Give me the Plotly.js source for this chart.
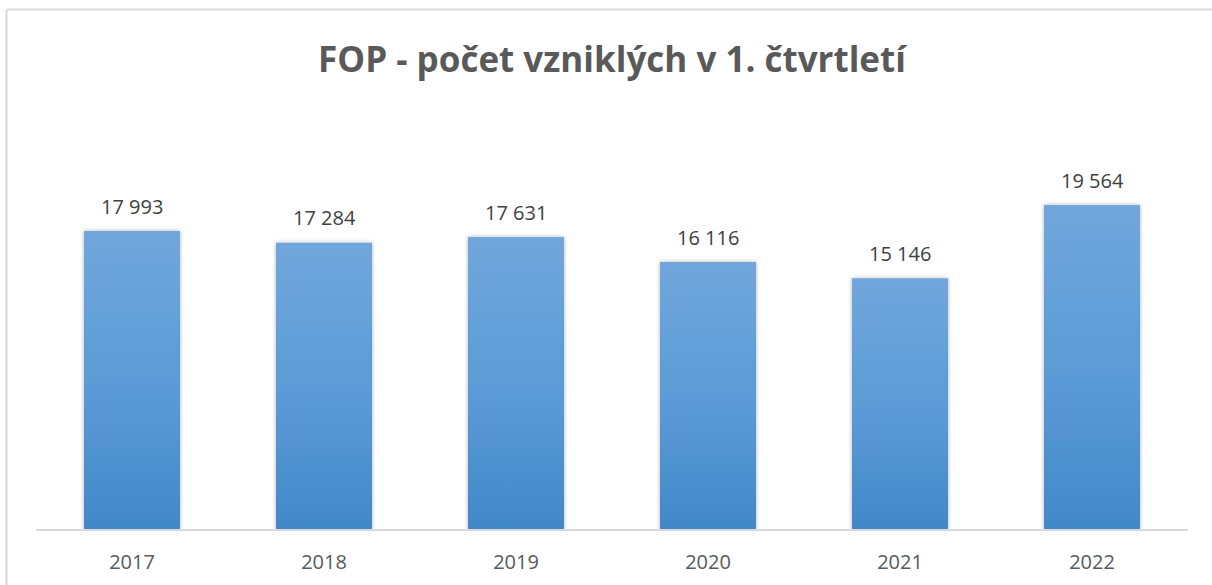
<!DOCTYPE html>
<html>
<head>
<meta charset="utf-8">
<script src="https://cdn.plot.ly/plotly-3.0.1.min.js"></script>
<style>
  html, body { margin: 0; padding: 0; background: #ffffff; }
  #chart { width: 1212px; height: 585px; }
</style>
</head>
<body>
<div id="chart"></div>
<script>
const years = ['2017', '2018', '2019', '2020', '2021', '2022'];
const counts = [17993, 17284, 17631, 16116, 15146, 19564];
const chartTitle = 'FOP - počet vzniklých v 1. čtvrtletí';

function fmt(v) {
  return String(v).replace(/\B(?=(\d{3})+(?!\d))/g, ' ');
}

const barTrace = {
  type: 'bar',
  x: years,
  y: counts,
  marker: { color: '#5b9bd5', line: { width: 0 } },
  hoverinfo: 'skip'
};

// on a category axis annotations are placed by category index
const annotations = years.map((yr, i) => ({
  x: i,
  y: counts[i],
  xref: 'x',
  yref: 'y',
  text: fmt(counts[i]),
  showarrow: false,
  yanchor: 'middle',
  yshift: 25,
  font: { family: 'Open Sans, sans-serif', size: 20, color: '#404040' }
}));

const layout = {
  width: 1212,
  height: 585,
  margin: { l: 36, r: 24, t: 115, b: 56, pad: 0 },
  paper_bgcolor: '#ffffff',
  plot_bgcolor: '#ffffff',
  showlegend: false,
  bargap: 0.5,
  title: {
    text: '<b>' + chartTitle + '</b>',
    font: { family: 'Open Sans, sans-serif', size: 35, color: '#595959' },
    x: 0.5,
    xref: 'paper',
    xanchor: 'center',
    y: (585 - 60) / 585,
    yref: 'container',
    yanchor: 'middle'
  },
  xaxis: {
    type: 'category',
    categoryorder: 'array',
    categoryarray: years,
    range: [-0.5, years.length - 0.5],
    autorange: false,
    showline: true,
    linecolor: '#d9d9d9',
    linewidth: 1.5,
    showgrid: false,
    zeroline: false,
    ticks: '',
    ticklabelstandoff: 14,
    tickfont: { family: 'Open Sans, sans-serif', size: 20, color: '#595959' },
    fixedrange: true
  },
  yaxis: {
    range: [0, 25000],
    autorange: false,
    showline: false,
    showgrid: false,
    zeroline: false,
    showticklabels: false,
    ticks: '',
    fixedrange: true
  },
  annotations: annotations,
  shapes: [
    { type: 'line', xref: 'paper', yref: 'paper',
      x0: (6.5 - 36) / 1152, x1: (1230 - 36) / 1152,
      y0: (529 - 9.5) / 414, y1: (529 - 9.5) / 414,
      line: { color: '#d9d9d9', width: 2 } },
    { type: 'line', xref: 'paper', yref: 'paper',
      x0: (6.5 - 36) / 1152, x1: (6.5 - 36) / 1152,
      y0: (529 - 9.5) / 414, y1: (529 - 600) / 414,
      line: { color: '#d9d9d9', width: 2 } }
  ]
};

Plotly.newPlot('chart', [barTrace], layout, { displayModeBar: false, staticPlot: true }).then(gd => {
  const svg = gd.querySelector('svg.main-svg');
  const ns = 'http://www.w3.org/2000/svg';
  let defs = svg.querySelector('defs');
  if (!defs) { defs = document.createElementNS(ns, 'defs'); svg.insertBefore(defs, svg.firstChild); }
  const grad = document.createElementNS(ns, 'linearGradient');
  grad.setAttribute('id', 'barGrad');
  grad.setAttribute('x1', '0'); grad.setAttribute('y1', '0');
  grad.setAttribute('x2', '0'); grad.setAttribute('y2', '1');
  [['0%', '#70a7dc'], ['55%', '#5a9ad6'], ['100%', '#4288c8']].forEach(([o, c]) => {
    const s = document.createElementNS(ns, 'stop');
    s.setAttribute('offset', o); s.setAttribute('stop-color', c);
    grad.appendChild(s);
  });
  defs.appendChild(grad);
  const filt = document.createElementNS(ns, 'filter');
  filt.setAttribute('id', 'barShadow');
  filt.setAttribute('x', '-10%'); filt.setAttribute('y', '-5%');
  filt.setAttribute('width', '120%'); filt.setAttribute('height', '110%');
  const ds = document.createElementNS(ns, 'feDropShadow');
  ds.setAttribute('dx', '0'); ds.setAttribute('dy', '0');
  ds.setAttribute('stdDeviation', '2');
  ds.setAttribute('flood-color', '#000000'); ds.setAttribute('flood-opacity', '0.3');
  filt.appendChild(ds);
  defs.appendChild(filt);
  gd.querySelectorAll('.bars .point path').forEach(p => {
    p.style.fill = 'url(#barGrad)';
    p.setAttribute('filter', 'url(#barShadow)');
  });
});
</script>
</body>
</html>
